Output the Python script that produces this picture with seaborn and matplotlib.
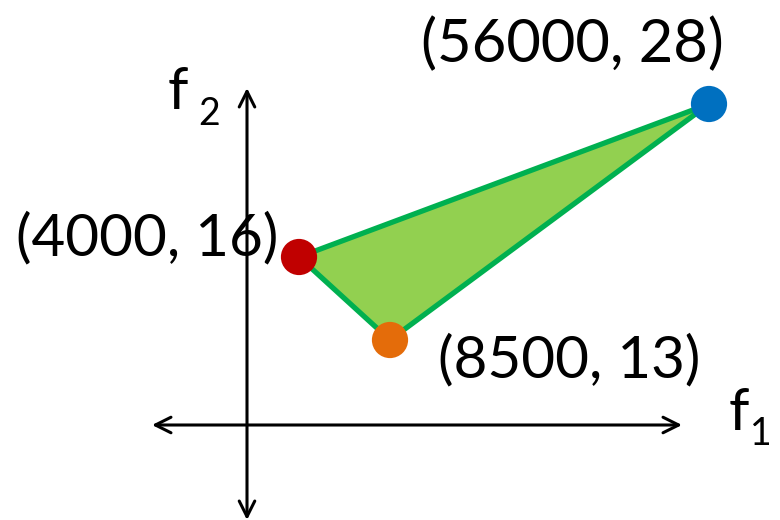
"""
Objective space sketch: three solutions (f1, f2) and the triangle they span.
"""

import matplotlib
matplotlib.use('Agg')
import matplotlib.pyplot as plt
import seaborn as sns
import pandas as pd

sns.set_style('white')
plt.rcParams['font.family'] = ['Lato', 'DejaVu Sans']
plt.rcParams['text.color'] = 'black'

# objective values of the three solutions
f1_values = [56000, 4000, 8500]
f2_values = [28, 16, 13]
point_colors = ['#0070C0', '#C00000', '#E46C0A']

# the sketch is not to scale: where each point sits on the drawing
sketch_x = [709, 299, 390]
sketch_y = [104, 257, 340]

labels = [f'({a}, {b})' for a, b in zip(f1_values, f2_values)]
df = pd.DataFrame({'x': sketch_x, 'y': sketch_y, 'label': labels})

fig = plt.figure(figsize=(7.8, 5.2), dpi=100)
ax = fig.add_axes([0, 0, 1, 1])
ax.set_xlim(0, 780)
ax.set_ylim(520, 0)
ax.axis('off')

# axes arrows
arrow = dict(arrowstyle='<->', color='black', lw=2.2, mutation_scale=28,
             shrinkA=0, shrinkB=0)
ax.annotate('', xy=(682, 425), xytext=(152, 425), arrowprops=arrow)
ax.annotate('', xy=(247, 88), xytext=(247, 520), arrowprops=arrow)

# triangle spanned by the three solutions
ax.fill(df['x'], df['y'], facecolor='#92D050', edgecolor='#00B050',
        linewidth=3.8, joinstyle='round', zorder=2)

sns.scatterplot(data=df, x='x', y='y', hue='label', palette=point_colors,
                s=680, edgecolor='none', legend=False, ax=ax, zorder=3)

fs = 42
ax.text(572, 62, labels[0], fontsize=43, ha='center', va='baseline')
ax.text(147, 255, labels[1], fontsize=fs, ha='center', va='baseline')
ax.text(569, 377, labels[2], fontsize=fs, ha='center', va='baseline')

# axis names with subscripts
ax.text(168, 109, 'f', fontsize=fs, ha='left', va='baseline')
ax.text(198, 125, '2', fontsize=27, ha='left', va='baseline')
ax.text(729, 430, 'f', fontsize=fs, ha='left', va='baseline')
ax.text(750, 445, '1', fontsize=27, ha='left', va='baseline')

fig.savefig('out.png', dpi=100)
